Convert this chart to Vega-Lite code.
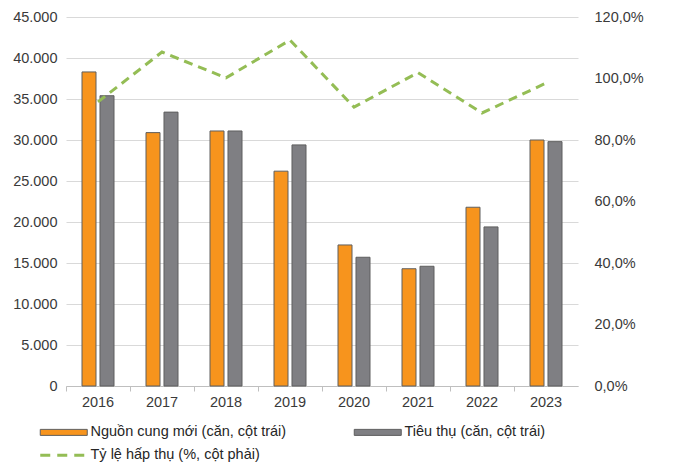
{
  "$schema": "https://vega.github.io/schema/vega-lite/v6.json",
  "width": 512,
  "height": 369,
  "autosize": "none",
  "padding": {"left": 66, "top": 17, "right": 102, "bottom": 79},
  "background": "white",
  "config": {
    "font": "Liberation Sans",
    "view": {"stroke": null},
    "axis": {"labelFont": "Liberation Sans", "labelFontSize": 14.5, "labelColor": "#3a3a3a", "titleFontSize": 0}
  },
  "datasets": {
    "bars": [
      {"year": "2016", "series": "Nguồn cung mới (căn, cột trái)", "value": 38300},
      {"year": "2016", "series": "Tiêu thụ (căn, cột trái)", "value": 35400},
      {"year": "2017", "series": "Nguồn cung mới (căn, cột trái)", "value": 30900},
      {"year": "2017", "series": "Tiêu thụ (căn, cột trái)", "value": 33400},
      {"year": "2018", "series": "Nguồn cung mới (căn, cột trái)", "value": 31100},
      {"year": "2018", "series": "Tiêu thụ (căn, cột trái)", "value": 31100},
      {"year": "2019", "series": "Nguồn cung mới (căn, cột trái)", "value": 26200},
      {"year": "2019", "series": "Tiêu thụ (căn, cột trái)", "value": 29400},
      {"year": "2020", "series": "Nguồn cung mới (căn, cột trái)", "value": 17200},
      {"year": "2020", "series": "Tiêu thụ (căn, cột trái)", "value": 15700},
      {"year": "2021", "series": "Nguồn cung mới (căn, cột trái)", "value": 14300},
      {"year": "2021", "series": "Tiêu thụ (căn, cột trái)", "value": 14600},
      {"year": "2022", "series": "Nguồn cung mới (căn, cột trái)", "value": 21800},
      {"year": "2022", "series": "Tiêu thụ (căn, cột trái)", "value": 19400},
      {"year": "2023", "series": "Nguồn cung mới (căn, cột trái)", "value": 30000},
      {"year": "2023", "series": "Tiêu thụ (căn, cột trái)", "value": 29800}
    ],
    "rate": [
      {"year": "2016", "series": "Tỷ lệ hấp thụ (%, cột phải)", "rate": 92.4},
      {"year": "2017", "series": "Tỷ lệ hấp thụ (%, cột phải)", "rate": 108.6},
      {"year": "2018", "series": "Tỷ lệ hấp thụ (%, cột phải)", "rate": 100.2},
      {"year": "2019", "series": "Tỷ lệ hấp thụ (%, cột phải)", "rate": 112.5},
      {"year": "2020", "series": "Tỷ lệ hấp thụ (%, cột phải)", "rate": 90.7},
      {"year": "2021", "series": "Tỷ lệ hấp thụ (%, cột phải)", "rate": 101.9},
      {"year": "2022", "series": "Tỷ lệ hấp thụ (%, cột phải)", "rate": 88.8},
      {"year": "2023", "series": "Tỷ lệ hấp thụ (%, cột phải)", "rate": 98.5}
    ]
  },
  "encoding": {
    "x": {
      "field": "year", "type": "nominal", "title": null,
      "scale": {"paddingInner": 0, "paddingOuter": 0},
      "axis": {"labelAngle": 0, "domainColor": "#bfbfbf", "tickColor": "#bfbfbf", "tickSize": 5, "bandPosition": 0, "labelPadding": 4, "grid": false}
    }
  },
  "layer": [
    {
      "data": {"name": "bars"},
      "mark": {"type": "bar", "stroke": "#5f5f5f", "strokeWidth": 1},
      "encoding": {
        "xOffset": {"field": "series", "type": "nominal", "scale": {"paddingInner": 0.222, "paddingOuter": 0.889}},
        "y": {
          "field": "value", "type": "quantitative", "title": null,
          "scale": {"domain": [0, 45000]},
          "axis": {"values": [0,5000,10000,15000,20000,25000,30000,35000,40000,45000], "labelExpr": "replace(format(datum.value, ','), ',', '.')", "domain": false, "ticks": false, "labelPadding": 9, "gridColor": "#d9d9d9", "gridWidth": 1}
        },
        "fill": {
          "field": "series", "type": "nominal",
          "scale": {"domain": ["Nguồn cung mới (căn, cột trái)", "Tiêu thụ (căn, cột trái)"], "range": ["#f7941d", "#7f7f83"]},
          "legend": {
            "orient": "none", "legendX": -28, "legendY": 408, "direction": "horizontal", "columns": 2,
            "title": null, "labelFont": "Liberation Sans", "labelFontSize": 14.5, "labelColor": "#262626",
            "symbolType": "M-1,-0.6H8.4V0.6H-1Z", "symbolStrokeColor": "#5f5f5f", "symbolStrokeWidth": 1, "symbolOpacity": 1,
            "symbolSize": 100, "labelOffset": 38, "columnPadding": 65, "labelLimit": 400
          }
        }
      }
    },
    {
      "data": {"name": "rate"},
      "mark": {"type": "line", "strokeWidth": 3, "strokeDash": [9, 6], "strokeCap": "butt"},
      "encoding": {
        "y": {
          "field": "rate", "type": "quantitative", "title": null,
          "scale": {"domain": [0, 120]},
          "axis": {"orient": "right", "values": [0,20,40,60,80,100,120], "labelExpr": "replace(format(datum.value, '.1f'), '.', ',') + '%'", "domain": false, "ticks": false, "grid": false, "labelPadding": 16}
        },
        "stroke": {
          "field": "series", "type": "nominal",
          "scale": {"range": ["#94bd55"]},
          "legend": {
            "orient": "none", "legendX": -28, "legendY": 431,
            "title": null, "labelFont": "Liberation Sans", "labelFontSize": 14.5, "labelColor": "#262626",
            "symbolType": "M-1,0H8", "symbolDash": [10, 7], "symbolStrokeWidth": 3, "symbolStrokeColor": "#94bd55",
            "symbolSize": 100, "labelOffset": 38, "labelLimit": 400
          }
        }
      }
    }
  ],
  "resolve": {"scale": {"y": "independent"}}
}
